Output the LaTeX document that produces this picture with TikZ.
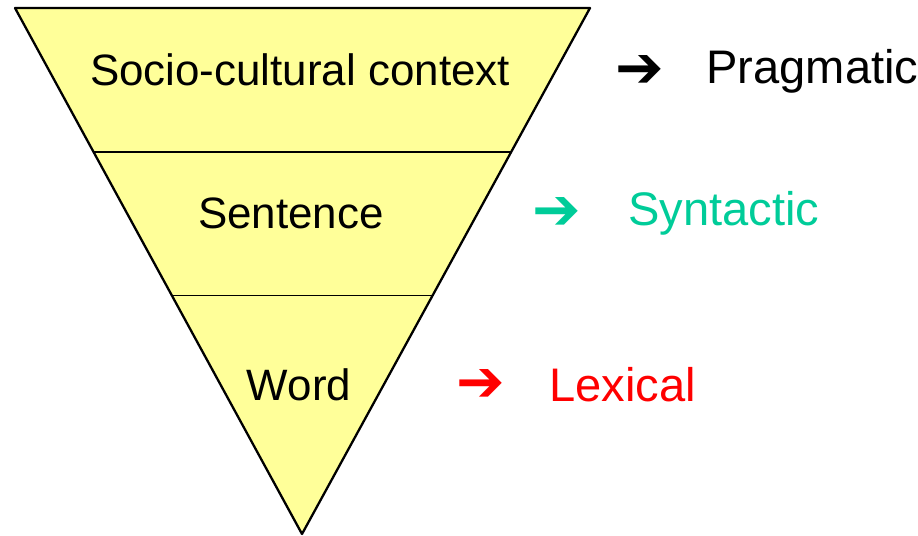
\documentclass[tikz,border=0pt]{standalone}
\usepackage{fontspec}
\setmainfont{Liberation Sans}
\newfontfamily\arrowfont{DejaVu Sans}
\usepackage{xcolor}
\usetikzlibrary{calc,positioning}
\definecolor{paleyellow}{HTML}{FFFF99}
\definecolor{synteal}{HTML}{00CC99}
\definecolor{lexred}{HTML}{FF0000}
\tikzset{
  Level/.style={font=\fontsize{25}{30}\selectfont, text=black, inner sep=0pt},
  Kind/.style={font=\fontsize{26.8}{32}\selectfont, inner sep=0pt, anchor=west},
  Pointer/.style={font=\arrowfont\fontsize{33}{38}\selectfont, inner sep=0pt}
}

\begin{document}
\begin{tikzpicture}[x=0.02cm, y=-0.02cm, line cap=round, line join=round]
  \useasboundingbox (0,0) rectangle (918,536);
  \coordinate (TL) at (15,8);
  \coordinate (TR) at (590,8);
  \coordinate (Apex) at (302,534);

  \draw[line width=1.3pt, fill=paleyellow] (TL)--(TR)--(Apex)--cycle;

  % dividing lines between the levels
  \coordinate (L1) at ($(TL)!0.2733!(Apex)$);
  \coordinate (R1) at ($(TR)!0.2733!(Apex)$);
  \coordinate (L2) at ($(TL)!0.5465!(Apex)$);
  \coordinate (R2) at ($(TR)!0.5465!(Apex)$);
  \draw[line width=1pt] (L1)--(R1);
  \draw[line width=1pt] (L2)--(R2);

  \node[Level] (context) at (300,70) {Socio-cultural context};
  \node[Level] (sentence) at (291,213) {Sentence};
  \node[Level] (word) at (299,385) {Word};

  \node[Pointer, text=black] (arrowP) at (640,72) {➔};
  \node[Kind, text=black] (pragmatic) at (706,71) {Pragmatic};
  \node[Pointer, text=synteal] (arrowS) at (557,214) {➔};
  \node[Kind, text=synteal] (syntactic) at (628,213) {Syntactic};
  \node[Pointer, text=lexred] (arrowL) at (481,386) {➔};
  \node[Kind, text=lexred] (lexical) at (549,385) {Lexical};
\end{tikzpicture}
\end{document}
